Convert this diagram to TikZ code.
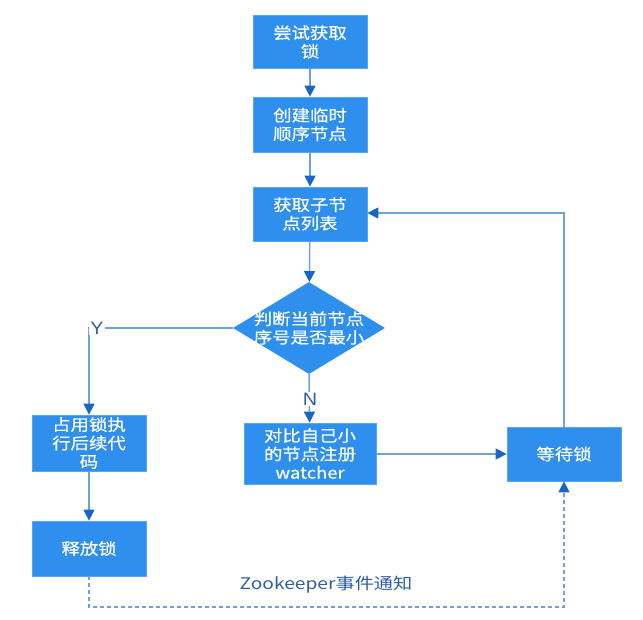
\documentclass[tikz,border=0pt]{standalone}
\usepackage{fontspec}
\newfontfamily\cjk[FakeStretch=1.15,FakeBold=0.4]{Noto Sans CJK SC}
\newfontfamily\cjkl[FakeStretch=1.2]{Noto Sans CJK SC}
\newfontfamily\latn[FakeStretch=1.1]{Liberation Sans}
\usetikzlibrary{arrows.meta,shapes.geometric}
\definecolor{boxblue}{HTML}{2E8FEF}
\definecolor{lineblue}{HTML}{6FA3D8}
\definecolor{tipblue}{HTML}{1766C4}
\definecolor{labblue}{HTML}{2F5E9E}
\tikzset{
  x=1pt, y=-1pt,
  stepbox/.style={draw=boxblue!80!white, line width=0.8pt, fill=boxblue, text=white, font=\cjk\fontsize{16}{18.5}\selectfont, align=center, inner sep=0pt},
  decide/.style={diamond, fill=boxblue, text=white, font=\cjk\fontsize{16}{18.5}\selectfont, align=center, inner xsep=-9pt, inner ysep=-6pt, minimum width=152pt, minimum height=92pt, aspect=1.65},
  link/.style={draw=lineblue, line width=1.5pt, -{Triangle[length=11pt,width=11pt,color=tipblue]}},
  dlink/.style={link, dash pattern=on 4pt off 3pt},
  yn/.style={fill=white, text=labblue, font=\latn\fontsize{18}{18}\selectfont, inner sep=1pt}
}
\begin{document}
\begin{tikzpicture}
\useasboundingbox (0,0) rectangle (643,619);
\node[stepbox, minimum width=114pt, minimum height=53pt] (b1) at (310,42) {尝试获取\\锁};
\node[stepbox, minimum width=114pt, minimum height=55pt] (b2) at (310,124.5) {创建临时\\顺序节点};
\node[stepbox, minimum width=114pt, minimum height=54pt] (b3) at (310,214) {获取子节\\点列表};
\node[decide] (d) at (309,328) {判断当前节点\\序号是否最小};
\node[stepbox, minimum width=114pt, minimum height=56pt] (b4) at (89,443) {占用锁执\\行后续代\\码};
\node[stepbox, minimum width=132pt, minimum height=61pt] (b5) at (310,453.5) {对比自己小\\的节点注册\\watcher};
\node[stepbox, minimum width=114pt, minimum height=54pt] (b6) at (564,454) {等待锁};
\node[stepbox, minimum width=114pt, minimum height=55pt] (b7) at (89,548.5) {释放锁};

\coordinate (yc) at (89,328);
\coordinate (lc) at (564,213);
\coordinate (dl) at (89,607);
\coordinate (dr) at (564,607);

\draw[link] (b1) -- (b2);
\draw[link] (b2) -- (b3);
\draw[link] (b3) -- (d);
\draw[link] (d.west) -- (yc) -- (b4);
\node[yn] (ylab) at (97,328) {Y};
\draw[link] (d.south) -- (b5);
\node[yn] (nlab) at (310,399) {N};
\draw[link] (b4) -- (b7);
\draw[link] (b5.east |- b6.west) -- (b6.west);
\draw[link] (b6.north -| lc) -- (lc) -- (b3.east |- lc);
\draw[dlink] (b7.south) -- (dl) -- (dr) -- (b6.south);
\node[text=labblue, font=\cjkl\fontsize{16}{18}\selectfont] (zk) at (326,585) {Zookeeper事件通知};
\end{tikzpicture}
\end{document}
